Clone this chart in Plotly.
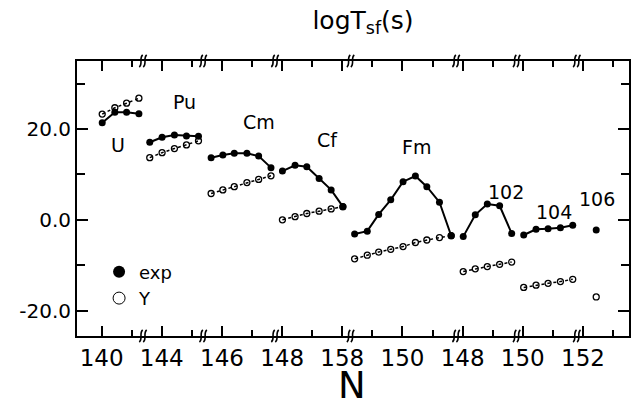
import plotly.graph_objects as go

# ---- data (x = position along the broken axis, in tick units) ----
elements = ["U", "Pu", "Cm", "Cf", "Fm", "102", "104", "106"]

x_U = [0.02, 0.44, 0.83, 1.24]
exp_U = [21.4, 23.7, 23.7, 23.4]
y_U = [23.3, 24.7, 25.7, 26.8]

x_Pu = [1.60, 2.01, 2.42, 2.82, 3.22]
exp_Pu = [17.1, 18.2, 18.7, 18.5, 18.4]
y_Pu = [13.7, 14.8, 15.7, 16.5, 17.4]

x_Cm = [3.64, 4.03, 4.41, 4.83, 5.22, 5.63]
exp_Cm = [13.7, 14.3, 14.65, 14.65, 14.05, 11.5]
y_Cm = [5.8, 6.6, 7.3, 8.2, 8.9, 9.7]

x_Cf = [6.01, 6.43, 6.82, 7.23, 7.63, 8.02]
exp_Cf = [10.75, 12.0, 11.7, 9.1, 6.6, 2.9]
y_Cf = [0.0, 0.7, 1.4, 1.9, 2.4, 2.9]

x_Fm = [8.41, 8.83, 9.21, 9.61, 10.02, 10.43, 10.81, 11.23, 11.62]
exp_Fm = [-3.1, -2.5, 1.2, 4.4, 8.4, 9.65, 7.3, 3.9, -3.5]
y_Fm = [-8.6, -7.8, -7.1, -6.5, -5.9, -5.0, -4.45, -3.9, -3.5]

x_102 = [12.02, 12.42, 12.82, 13.23, 13.63]
exp_102 = [-3.7, 1.1, 3.5, 3.1, -3.0]
y_102 = [-11.4, -10.8, -10.3, -9.8, -9.3]

x_104 = [14.03, 14.44, 14.84, 15.25, 15.66]
exp_104 = [-3.35, -2.1, -1.95, -1.75, -1.2]
y_104 = [-14.9, -14.4, -14.0, -13.6, -13.1]

x_106 = [16.44]
exp_106 = [-2.25]
y_106 = [-17.0]

xs = [x_U, x_Pu, x_Cm, x_Cf, x_Fm, x_102, x_104, x_106]
exps = [exp_U, exp_Pu, exp_Cm, exp_Cf, exp_Fm, exp_102, exp_104, exp_106]
ys = [y_U, y_Pu, y_Cm, y_Cf, y_Fm, y_102, y_104, y_106]

# element label positions
label_x = [0.55, 2.76, 5.24, 7.50, 10.48, 13.43, 15.04, 16.48]
label_y = [16.5, 26.0, 21.5, 17.6, 16.1, 6.2, 1.8, 4.7]

# axis ticks
x_tickvals = [0, 2, 4, 6, 8, 10, 12, 14, 16]
x_ticktext = ["140", "144", "146", "148", "158", "150", "148", "150", "152"]
y_tickvals = [-20, 0, 20]
y_ticktext = ["-20.0", "0.0", "20.0"]
break_pos = [1.40, 3.40, 5.79, 8.30, 11.81, 13.82, 15.82]

FONT = "DejaVu Sans"
PX_X = 30.2   # pixels per x unit
PX_Y = 275.0  # pixels per paper unit

fig = go.Figure()
for xv, ev, yv in zip(xs, exps, ys):
    fig.add_trace(go.Scatter(
        x=xv, y=yv, mode="lines+markers", showlegend=False,
        line=dict(color="black", width=1.5, dash="dot"),
        marker=dict(symbol="circle-open", size=6, color="black", line=dict(width=1.3)),
    ))
for xv, ev, yv in zip(xs, exps, ys):
    fig.add_trace(go.Scatter(
        x=xv, y=ev, mode="lines+markers", showlegend=False,
        line=dict(color="black", width=2),
        marker=dict(symbol="circle", size=7, color="black"),
    ))

# legend entries
fig.add_trace(go.Scatter(x=[None], y=[None], mode="markers", name="exp",
                         marker=dict(symbol="circle", color="black", size=12)))
fig.add_trace(go.Scatter(x=[None], y=[None], mode="markers", name="Y",
                         marker=dict(symbol="circle-open", color="black", size=12)))

annotations = []
for name, lx, ly in zip(elements, label_x, label_y):
    annotations.append(dict(x=lx, y=ly, xref="x", yref="y", text=name, showarrow=False,
                            font=dict(family=FONT, size=19, color="black")))
annotations.append(dict(x=0.498, y=-0.18, xref="paper", yref="paper", text="N", showarrow=False,
                        yanchor="middle", font=dict(family=FONT, size=37, color="black")))


def wiggle(cx, cy, off):
    # one wavy stroke of the axis-break mark, offsets in pixels
    pts = [(-2.5 + off, -6), (1.5 + off, -3), (-3.0 + off, 3), (1.0 + off, 6)]
    c = [f"{cx + dx / PX_X:.4f},{cy + dy / PX_Y:.4f}" for dx, dy in pts]
    return f"M{c[0]} C{c[1]} {c[2]} {c[3]}"


shapes = []
for bp in break_pos:
    for yp in (0, 1):
        for off in (-2.0, 2.0):
            shapes.append(dict(type="path", xref="x", yref="paper", path=wiggle(bp, yp, off),
                               line=dict(color="black", width=1.6)))

fig.update_layout(
    width=631, height=410,
    margin=dict(l=77, r=0, t=61, b=74),
    paper_bgcolor="white", plot_bgcolor="white",
    title=dict(text="logT<sub>sf</sub>(s)", x=363 / 631, xref="container", xanchor="center",
               y=1 - 20 / 410, yref="container", yanchor="middle",
               font=dict(family=FONT, size=25, color="black")),
    legend=dict(x=0.04, y=0.30, xanchor="left", yanchor="top", itemsizing="constant",
                font=dict(family=FONT, size=18, color="black"), bgcolor="rgba(0,0,0,0)",
                tracegroupgap=0),
    annotations=annotations,
    shapes=shapes,
    font=dict(family=FONT, color="black"),
)
fig.update_xaxes(
    range=[-0.818, 17.53], showgrid=False, zeroline=False,
    showline=True, linecolor="black", linewidth=2, mirror="ticks",
    ticks="inside", ticklen=10, tickwidth=2, tickcolor="black",
    tickmode="array", tickvals=x_tickvals, ticktext=x_ticktext,
    tickfont=dict(family=FONT, size=23, color="black"),
    minor=dict(tickmode="linear", tick0=1, dtick=2, ticks="inside", ticklen=6,
               tickwidth=2, tickcolor="black", showgrid=False),
)
fig.update_yaxes(
    range=[-25.6, 35.0], showgrid=False, zeroline=False,
    showline=True, linecolor="black", linewidth=2, mirror="ticks",
    ticks="inside", ticklen=11, tickwidth=2, tickcolor="black",
    tickmode="array", tickvals=y_tickvals, ticktext=y_ticktext,
    tickfont=dict(family=FONT, size=20, color="black"),
    minor=dict(tickmode="linear", tick0=-10, dtick=20, ticks="inside", ticklen=8,
               tickwidth=2, tickcolor="black", showgrid=False),
)

fig.write_html("out.html")
